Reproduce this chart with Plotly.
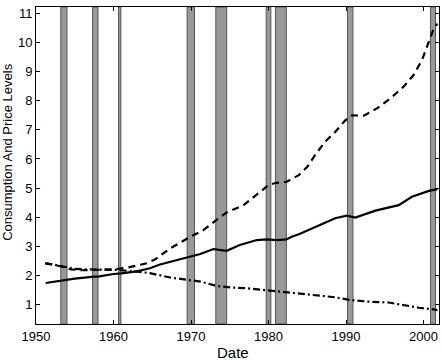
import plotly.graph_objects as go

# Consumption (solid)
cons_t = [1951.25, 1952, 1953, 1953.6, 1955, 1957.5, 1958, 1960, 1961, 1963, 1964.7, 1966,
          1967.3, 1969.5, 1971.2, 1972.9, 1974.6, 1976.3, 1978.5, 1979.8, 1981.1, 1982.3,
          1983, 1984, 1985.6, 1988.6, 1990.1, 1991.2, 1993.8, 1996.8, 1998.5, 2000.7, 2001.8]
cons_v = [1.73, 1.76, 1.80, 1.83, 1.88, 1.95, 1.95, 2.04, 2.06, 2.13, 2.24, 2.37,
          2.46, 2.62, 2.73, 2.90, 2.84, 3.04, 3.21, 3.23, 3.21, 3.23,
          3.32, 3.42, 3.61, 3.96, 4.05, 3.98, 4.22, 4.41, 4.70, 4.90, 4.96]

# Price level (dashed)
dash_t = [1951.2, 1952.3, 1953.5, 1954.5, 1956, 1958, 1960, 1961.8, 1963, 1964.3, 1965.4,
          1967.3, 1969.9, 1971.6, 1973.3, 1974.6, 1976.8, 1978.5, 1980, 1981, 1982.3,
          1983.9, 1985, 1986, 1987.3, 1988.6, 1989.9, 1990.8, 1992.3, 1994, 1995.7,
          1997.4, 1998.7, 1999.8, 2000.6, 2001.4, 2001.8]
dash_v = [2.40, 2.36, 2.28, 2.20, 2.17, 2.18, 2.20, 2.26, 2.32, 2.41, 2.55,
          2.92, 3.32, 3.55, 3.90, 4.16, 4.41, 4.76, 5.10, 5.18, 5.21,
          5.44, 5.73, 6.13, 6.59, 6.93, 7.33, 7.50, 7.49, 7.74, 8.08,
          8.48, 8.88, 9.40, 9.97, 10.54, 10.65]

# Relative price (dash-dot)
dd_t = [1951.2, 1952.5, 1953.5, 1955, 1956.6, 1960.5, 1963.1, 1964.7, 1967.3, 1969.5, 1971.2,
        1973.3, 1975.1, 1977.2, 1979.4, 1982, 1983.5, 1986.1, 1988.6, 1990.4, 1992.9,
        1995.5, 1997.2, 1999.4, 2001.1, 2001.8]
dd_v = [2.42, 2.36, 2.30, 2.22, 2.20, 2.18, 2.12, 2.07, 1.92, 1.84, 1.78,
        1.63, 1.58, 1.55, 1.49, 1.43, 1.38, 1.30, 1.24, 1.15, 1.09,
        1.06, 0.98, 0.88, 0.83, 0.80]

# Recession bands
rec_start = [1953.2, 1957.3, 1960.65, 1969.5, 1973.2, 1979.7, 1980.9, 1990.2, 2000.9]
rec_end = [1954.0, 1958.0, 1960.95, 1970.45, 1974.6, 1980.3, 1982.3, 1990.9, 2001.55]

x_ticks = [1950, 1960, 1970, 1980, 1990, 2000]
y_ticks = [1, 2, 3, 4, 5, 6, 7, 8, 9, 10, 11]

fig = go.Figure()
fig.add_trace(go.Scatter(x=dash_t, y=dash_v, mode='lines',
                         line=dict(color='black', width=2.2, dash='7px,5px')))
fig.add_trace(go.Scatter(x=cons_t, y=cons_v, mode='lines',
                         line=dict(color='black', width=2.2)))
fig.add_trace(go.Scatter(x=dd_t, y=dd_v, mode='lines',
                         line=dict(color='black', width=2.2, dash='7px,3px,2px,3px')))

for s, e in zip(rec_start, rec_end):
    fig.add_shape(type='rect', xref='x', yref='paper', x0=s, x1=e, y0=0, y1=1,
                  fillcolor='#999999', line=dict(color='#555555', width=1), layer='below')

font = dict(family='Liberation Sans, Arial, sans-serif', color='black')
axis_common = dict(showgrid=False, zeroline=False, showline=True, linecolor='black',
                   linewidth=1, mirror='ticks', ticks='inside', ticklen=4,
                   tickcolor='black', tickfont=dict(size=13, **font))
fig.update_xaxes(range=[1950, 2002], tickvals=x_ticks, **axis_common)
fig.update_yaxes(range=[0.32, 11.23], tickvals=y_ticks, **axis_common)

fig.add_annotation(text='Date', xref='paper', yref='paper', x=0.49, y=-0.09,
                   yanchor='middle', xanchor='center', showarrow=False,
                   font=dict(size=15, **font))
fig.add_annotation(text='Consumption And Price Levels', xref='paper', yref='paper',
                   x=(8 - 36) / 403, y=0.543, textangle=-90, xanchor='center',
                   yanchor='middle', showarrow=False, font=dict(size=13, **font))

fig.update_layout(width=442, height=360, showlegend=False,
                  margin=dict(l=36, r=3, t=7, b=36),
                  plot_bgcolor='white', paper_bgcolor='white')
fig.write_html('out.html')
